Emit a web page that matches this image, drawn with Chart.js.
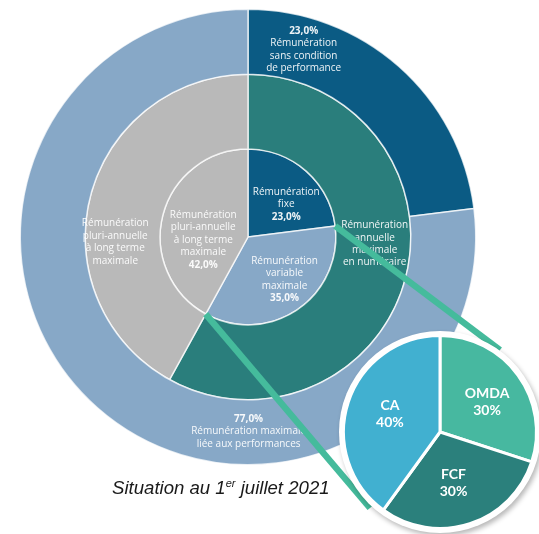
<!DOCTYPE html>
<html lang="fr">
<head>
<meta charset="utf-8">
<title>Structure de rémunération</title>
<script src="https://cdn.jsdelivr.net/npm/chart.js@4.4.1/dist/chart.umd.min.js"></script>
<style>
    html, body { margin: 0; padding: 0; background: #fff; }
    body { width: 539px; height: 534px; position: relative; overflow: hidden; }
    #mainChart { position: absolute; left: 0; top: 0; }
    #criteriaWrap {
        position: absolute; left: 339px; top: 331px; width: 202px; height: 202px;
        border-radius: 50%; background: #fff;
        box-shadow: 2px 3px 5px rgba(0, 0, 0, 0.28);
    }
    #criteriaChart { position: absolute; left: 0; top: 0; }
    #caption {
        position: absolute; left: 112px; top: 477px;
        font-family: "Liberation Sans", Arial, sans-serif; font-style: italic;
        font-size: 18.6px; color: #1a1a1a; white-space: nowrap;
    }
    #caption sup { font-size: 11px; vertical-align: 7px; line-height: 0; }
</style>
</head>
<body>
<canvas id="mainChart" width="539" height="534"></canvas>
<div id="caption">Situation au 1<sup>er</sup> juillet 2021</div>
<div id="criteriaWrap"><canvas id="criteriaChart" width="202" height="202"></canvas></div>
<script>
// Data ------------------------------------------------------------------------------------

var OUTER_LABELS = [
    ['Rémunération', 'sans condition', 'de performance'],
    ['Rémunération maximale', 'liée aux performances']
];
var OUTER_VALUES = [23, 77];

var MIDDLE_LABELS = [
    ['Rémunération', 'annuelle', 'maximale', 'en numéraire'],
    ['Rémunération', 'pluri-annuelle', 'à long terme', 'maximale']
];
var MIDDLE_VALUES = [58, 42];

var INNER_LABELS = [
    ['Rémunération', 'fixe'],
    ['Rémunération', 'variable', 'maximale'],
    ['Rémunération', 'pluri-annuelle', 'à long terme', 'maximale']
];
var INNER_VALUES = [23, 35, 42];

var CRITERIA_LABELS = ['OMDA', 'FCF', 'CA'];
var CRITERIA_VALUES = [30, 30, 40];

// Constants ------------------------------------------------------------------------------

var DARK_BLUE = '#0b5b84';
var LIGHT_BLUE = '#87a8c7';
var TEAL = '#2a7e7c';
var GREY = '#b9b9b9';

var CRITERIA_COLORS = ['#47b8a0', '#2b807c', '#41b0d0'];
var CONNECTOR_COLOR = '#45bb9c';

var RING_BORDER = 'rgba(255, 255, 255, 0.75)';
var LABEL_FONT = '"Open Sans", "DejaVu Sans", sans-serif';

// where each label block sits inside its arc: share of the sweep, share of the ring depth
var LABEL_SPOTS = [
    [[0.20, 0.50], [0.35, 0.49]],
    [[0.446, 0.52], [0.39, 0.60]],
    [[0.60, 0.57], [0.45, 0.64], [0.38, 0.51]]
];
var CRITERIA_SPOTS = [[0.53, 0.58], [0.53, 0.55], [0.51, 0.55]];

// where the connectors meet the detail circle
var CONNECTOR_ENDS = [[500, 350], [370, 508]];

function formatPercent(v) {
    return v.toFixed(1).replace('.', ',') + '%';
}

function arcPoint(arc, spot) {
    var p = arc.getProps(['x', 'y', 'startAngle', 'endAngle', 'innerRadius', 'outerRadius'], true);
    var a = p.startAngle + spot[0] * (p.endAngle - p.startAngle);
    var r = p.innerRadius + spot[1] * (p.outerRadius - p.innerRadius);
    return { x: p.x + r * Math.cos(a), y: p.y + r * Math.sin(a) };
}

function drawBlock(ctx, pt, lines, lineHeight) {
    var top = pt.y - (lines.length - 1) * lineHeight / 2;
    lines.forEach(function (line, i) {
        ctx.font = line.font;
        ctx.fillText(line.text, pt.x, top + i * lineHeight);
    });
}

// Plugins --------------------------------------------------------------------------------

var ringLabels = {
    id: 'ringLabels',
    afterDatasetsDraw: function (chart) {
        var ctx = chart.ctx;
        var regular = '10px ' + LABEL_FONT;
        var bold = 'bold 10px ' + LABEL_FONT;
        ctx.save();
        ctx.fillStyle = 'rgba(255, 255, 255, 0.93)';
        ctx.textAlign = 'center';
        ctx.textBaseline = 'middle';
        chart.data.datasets.forEach(function (ds, di) {
            chart.getDatasetMeta(di).data.forEach(function (arc, i) {
                var lines = ds.textLines[i].map(function (t) { return { text: t, font: regular }; });
                var pct = { text: formatPercent(ds.data[i]), font: bold };
                if (ds.percentAt === 'top') lines.unshift(pct);
                if (ds.percentAt === 'bottom') lines.push(pct);
                drawBlock(ctx, arcPoint(arc, LABEL_SPOTS[di][i]), lines, 12.4);
            });
        });
        ctx.restore();
    }
};

// the two strokes tying the variable slice to the detail circle
var connectors = {
    id: 'connectors',
    afterDraw: function (chart) {
        var arc = chart.getDatasetMeta(2).data[1];
        var p = arc.getProps(['x', 'y', 'startAngle', 'endAngle', 'outerRadius'], true);
        var starts = [p.startAngle, p.endAngle].map(function (a) {
            return [p.x + p.outerRadius * Math.cos(a), p.y + p.outerRadius * Math.sin(a)];
        });
        var ctx = chart.ctx;
        ctx.save();
        ctx.strokeStyle = CONNECTOR_COLOR;
        ctx.lineWidth = 6.5;
        starts.forEach(function (s, i) {
            ctx.beginPath();
            ctx.moveTo(s[0], s[1]);
            ctx.lineTo(CONNECTOR_ENDS[i][0], CONNECTOR_ENDS[i][1]);
            ctx.stroke();
        });
        ctx.restore();
    }
};

var criteriaLabels = {
    id: 'criteriaLabels',
    afterDatasetsDraw: function (chart) {
        var ctx = chart.ctx;
        var ds = chart.data.datasets[0];
        var font = 'bold 14px Lato, "Open Sans", sans-serif';
        ctx.save();
        ctx.fillStyle = '#ffffff';
        ctx.textAlign = 'center';
        ctx.textBaseline = 'middle';
        chart.getDatasetMeta(0).data.forEach(function (arc, i) {
            var lines = [
                { text: chart.data.labels[i], font: font },
                { text: ds.data[i] + '%', font: font }
            ];
            drawBlock(ctx, arcPoint(arc, CRITERIA_SPOTS[i]), lines, 17);
        });
        ctx.restore();
    }
};

// Charts ---------------------------------------------------------------------------------

new Chart(document.getElementById('mainChart'), {
    type: 'doughnut',
    data: {
        datasets: [{
            data: OUTER_VALUES,
            textLines: OUTER_LABELS,
            percentAt: 'top',
            backgroundColor: [DARK_BLUE, LIGHT_BLUE],
            weight: 65
        }, {
            data: MIDDLE_VALUES,
            textLines: MIDDLE_LABELS,
            percentAt: 'none',
            backgroundColor: [TEAL, GREY],
            weight: 75
        }, {
            data: INNER_VALUES,
            textLines: INNER_LABELS,
            percentAt: 'bottom',
            backgroundColor: [DARK_BLUE, LIGHT_BLUE, GREY],
            weight: 88
        }]
    },
    options: {
        responsive: false,
        animation: false,
        devicePixelRatio: 1,
        cutout: 0,
        borderColor: RING_BORDER,
        borderWidth: 1.5,
        layout: { padding: { left: 19.5, top: 8.5, right: 62.5, bottom: 68.5 } },
        plugins: { legend: { display: false }, tooltip: { enabled: false } }
    },
    plugins: [ringLabels, connectors]
});

new Chart(document.getElementById('criteriaChart'), {
    type: 'pie',
    data: {
        labels: CRITERIA_LABELS,
        datasets: [{
            data: CRITERIA_VALUES,
            backgroundColor: CRITERIA_COLORS,
            borderColor: '#ffffff',
            borderWidth: 3
        }]
    },
    options: {
        responsive: false,
        animation: false,
        devicePixelRatio: 1,
        layout: { padding: 3 },
        plugins: { legend: { display: false }, tooltip: { enabled: false } }
    },
    plugins: [criteriaLabels]
});
</script>
</body>
</html>
